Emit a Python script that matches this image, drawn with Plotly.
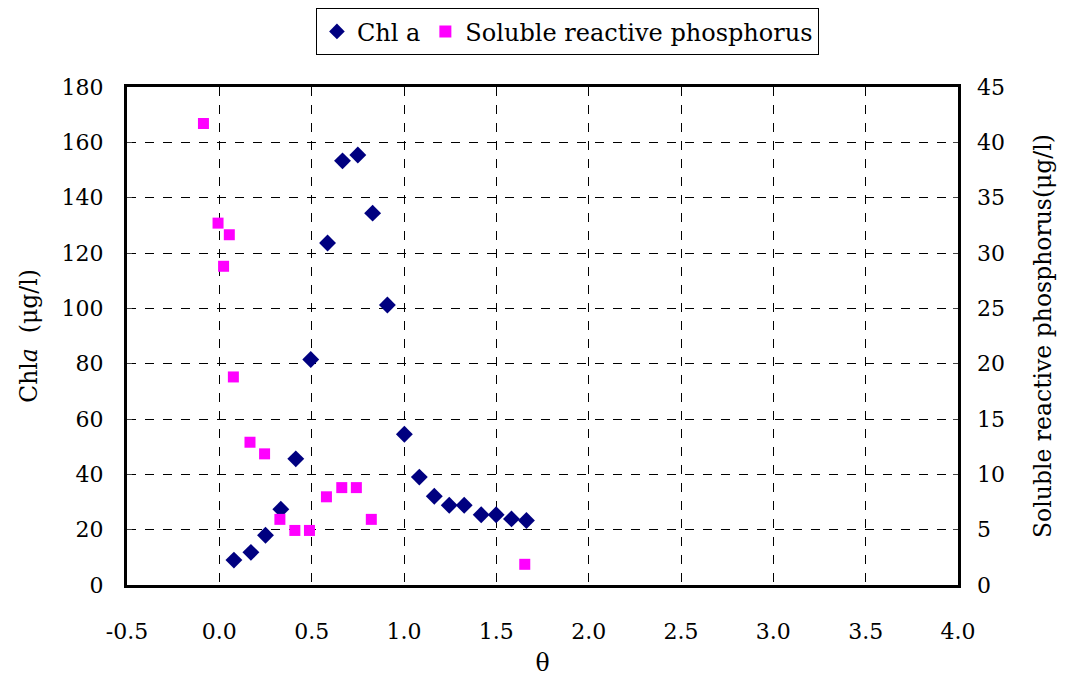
import plotly.graph_objects as go

chl_theta = [0.079, 0.171, 0.250, 0.333, 0.414, 0.495, 0.586, 0.667, 0.750, 0.830,
             0.910, 1.002, 1.083, 1.164, 1.245, 1.326, 1.418, 1.499, 1.582, 1.663]
chl_values = [9.0, 11.8, 18.0, 27.4, 45.6, 81.5, 123.6, 153.3, 155.4, 134.4,
              101.2, 54.5, 39.0, 32.1, 28.8, 28.8, 25.4, 25.4, 23.9, 23.3]

srp_theta = [-0.086, -0.007, 0.054, 0.023, 0.076, 0.166, 0.245, 0.328, 0.409, 0.488,
             0.580, 0.663, 0.742, 0.823, 1.654]
srp_values = [41.7, 32.7, 31.65, 28.8, 18.8, 12.9, 11.85, 5.93, 4.93, 4.93,
              7.97, 8.8, 8.8, 5.93, 1.87]

x_ticks = [-0.5, 0.0, 0.5, 1.0, 1.5, 2.0, 2.5, 3.0, 3.5, 4.0]
x_tick_labels = ["%.1f" % v for v in x_ticks]

FONT = "DejaVu Serif"
TICK = 22
TITLE = 23.5

fig = go.Figure()
fig.add_trace(go.Scatter(
    x=chl_theta, y=chl_values, mode="markers", name="Chl a",
    marker=dict(symbol="diamond", size=13, color="#000080"),
    yaxis="y"))
fig.add_trace(go.Scatter(
    x=srp_theta, y=srp_values, mode="markers", name="Soluble reactive phosphorus",
    marker=dict(symbol="square", size=11, color="#FF00FF"),
    yaxis="y2"))

fig.update_layout(
    width=1066, height=677,
    margin=dict(l=127, r=108, t=87, b=92, autoexpand=False),
    paper_bgcolor="white", plot_bgcolor="white",
    font=dict(family=FONT, size=TICK, color="black"),
    showlegend=True,
    legend=dict(orientation="h", x=0.53, xanchor="center", y=1.158, yanchor="top",
                bordercolor="black", borderwidth=1, font=dict(family=FONT, size=24),
                itemsizing="constant"),
    xaxis=dict(range=[-0.5, 4.0], tickvals=x_ticks, ticktext=x_tick_labels,
               tickfont=dict(family=FONT, size=TICK), automargin=False,
               showgrid=True, gridcolor="black", griddash="dash", gridwidth=1,
               showline=True, linecolor="black", linewidth=3, mirror=True,
               zeroline=False, ticks="", ticklabelstandoff=25,
               title=dict(text="θ", standoff=14, font=dict(family=FONT, size=TITLE))),
    yaxis=dict(range=[0, 180], dtick=20, showgrid=True, gridcolor="black",
               tickfont=dict(family=FONT, size=TICK), automargin=False,
               griddash="dash", gridwidth=1, showline=True, linecolor="black",
               linewidth=3, mirror=True, zeroline=False, ticks="inside", ticklen=5,
               ticklabelstandoff=16,
               title=dict(text="Chl<i>a</i>  (μg/l)", standoff=18,
                          font=dict(family=FONT, size=TITLE))),
    yaxis2=dict(range=[0, 45], dtick=5, overlaying="y", side="right",
                tickfont=dict(family=FONT, size=TICK), automargin=False,
                showgrid=False, zeroline=False, showline=False, ticks="inside",
                ticklen=5, ticklabelstandoff=18,
                title=dict(text="Soluble reactive phosphorus(μg/l)", standoff=30,
                           font=dict(family=FONT, size=TITLE))),
)

fig.write_html("out.html")
